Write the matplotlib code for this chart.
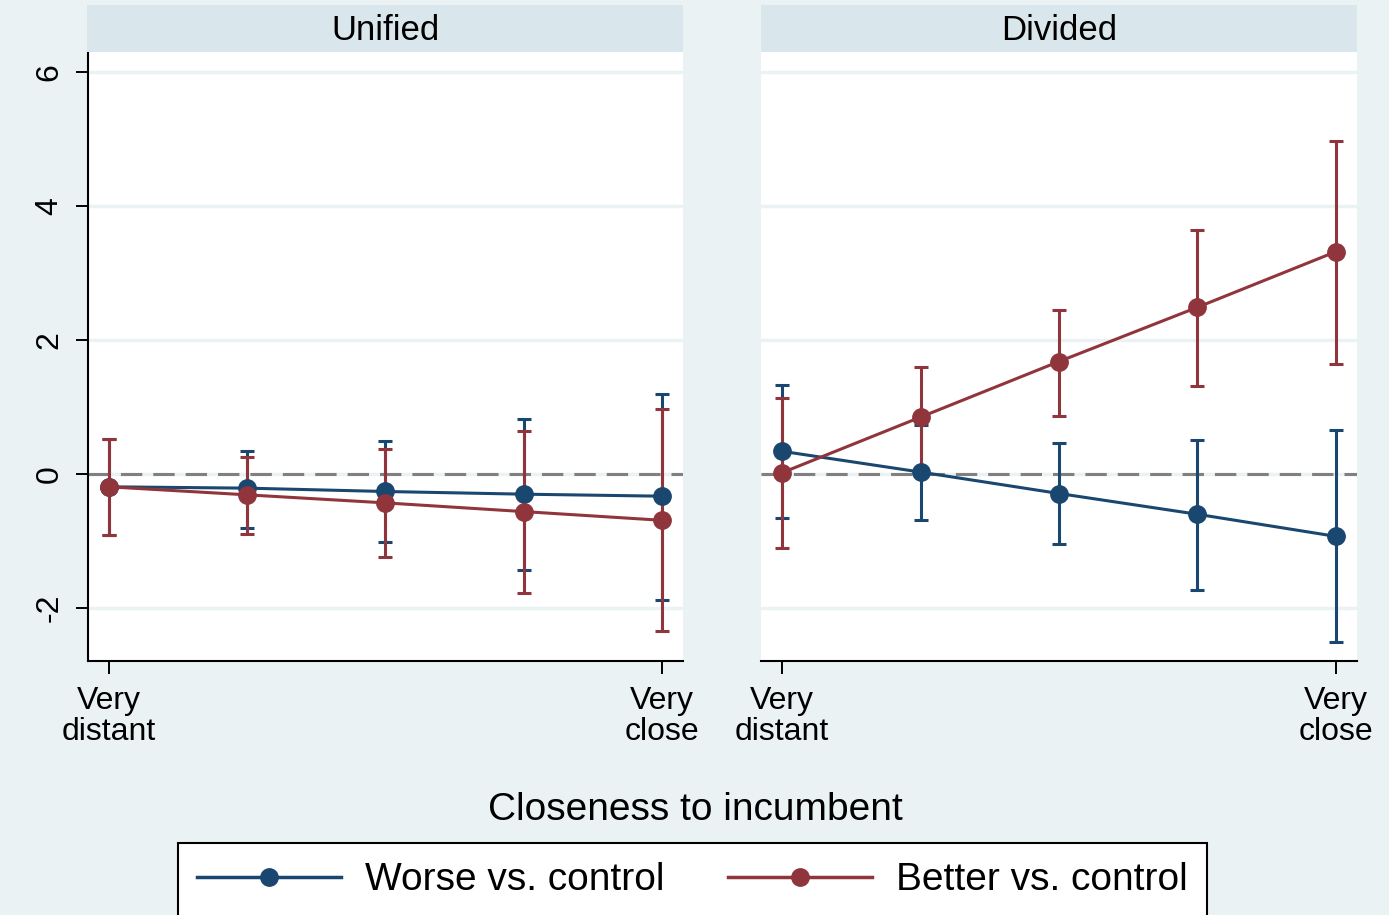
import matplotlib
matplotlib.use("Agg")
import matplotlib.pyplot as plt
import numpy as np

plt.rcParams['font.family'] = ['Liberation Sans', 'DejaVu Sans']

# closeness levels (1 = very distant, 5 = very close)
levels = [1, 2, 3, 4, 5]
tick_pos = [1, 5]
tick_labels = ["Very\ndistant", "Very\nclose"]
panels = ["Unified", "Divided"]

# Unified panel
uni_worse = [-0.19, -0.21, -0.26, -0.30, -0.33]
uni_worse_lo = [-0.91, -0.80, -1.02, -1.43, -1.88]
uni_worse_hi = [0.52, 0.35, 0.50, 0.82, 1.20]
uni_better = [-0.19, -0.31, -0.43, -0.56, -0.69]
uni_better_lo = [-0.91, -0.89, -1.24, -1.77, -2.34]
uni_better_hi = [0.52, 0.25, 0.37, 0.64, 0.97]

# Divided panel
div_worse = [0.34, 0.03, -0.29, -0.60, -0.93]
div_worse_lo = [-0.66, -0.68, -1.05, -1.73, -2.51]
div_worse_hi = [1.33, 0.73, 0.46, 0.51, 0.66]
div_better = [0.02, 0.85, 1.68, 2.49, 3.32]
div_better_lo = [-1.11, 0.08, 0.87, 1.31, 1.64]
div_better_hi = [1.14, 1.60, 2.45, 3.65, 4.97]

navy = "#1a476f"
maroon = "#90353b"
bg = "#eaf2f3"
strip = "#d9e6eb"

W, H = 1389, 915
fig = plt.figure(figsize=(W / 100, H / 100), dpi=100, facecolor=bg)


def px_axes(x0, y0, x1, y1):
    return fig.add_axes([x0 / W, 1 - y1 / H, (x1 - x0) / W, (y1 - y0) / H])


def draw_panel(ax, worse, wlo, whi, better, blo, bhi, show_y):
    ax.set_facecolor("white")
    for g in [-2, 0, 2, 4, 6]:
        ax.axhline(g, color=bg, lw=2.5, zorder=0)
    ax.axhline(0, color="#808080", lw=2.2, ls=(0, (7, 3.6)), zorder=1)

    w = np.array(worse)
    b = np.array(better)
    ax.errorbar(levels, w, yerr=[w - np.array(wlo), np.array(whi) - w], fmt="none",
                ecolor=navy, elinewidth=2.2, capsize=5.2, capthick=2.2, zorder=2)
    ax.errorbar(levels, b, yerr=[b - np.array(blo), np.array(bhi) - b], fmt="none",
                ecolor=maroon, elinewidth=2.2, capsize=5.2, capthick=2.2, zorder=2)
    ax.plot(levels, w, color=navy, lw=2.2, marker="o", ms=12.5, zorder=3)
    ax.plot(levels, b, color=maroon, lw=2.2, marker="o", ms=12.5, zorder=4)

    ax.set_xlim(0.848, 5.152)
    ax.set_ylim(-2.79, 6.30)
    ax.set_xticks(tick_pos)
    ax.set_xticklabels(tick_labels, fontsize=23, linespacing=1.05)
    ax.tick_params(axis="x", length=9, width=1.4, pad=9)
    for s in ["top", "right"]:
        ax.spines[s].set_visible(False)
    ax.spines["bottom"].set_linewidth(1.5)
    if show_y:
        ax.set_yticks([-2, 0, 2, 4, 6])
        ax.set_yticklabels(["-2", "0", "2", "4", "6"], fontsize=23, rotation=90, va="center")
        ax.tick_params(axis="y", length=9, width=1.4, pad=8)
        ax.spines["left"].set_linewidth(1.5)
    else:
        ax.spines["left"].set_visible(False)
        ax.set_yticks([])


ax1 = px_axes(88, 52, 683, 661)
draw_panel(ax1, uni_worse, uni_worse_lo, uni_worse_hi,
           uni_better, uni_better_lo, uni_better_hi, True)
ax2 = px_axes(761, 52, 1357, 661)
draw_panel(ax2, div_worse, div_worse_lo, div_worse_hi,
           div_better, div_better_lo, div_better_hi, False)

# strip headers
for (x0, x1), name in zip([(87, 683), (761, 1357)], panels):
    sa = px_axes(x0, 5, x1, 52)
    sa.set_facecolor(strip)
    sa.set_xticks([])
    sa.set_yticks([])
    for s in sa.spines.values():
        s.set_visible(False)
    sa.text(0.5, 0.45, name, ha="center", va="center", fontsize=25, transform=sa.transAxes)

fig.text(695 / W, 1 - 810 / H, "Closeness to incumbent", ha="center", va="center", fontsize=28)

handles = [plt.Line2D([], [], color=navy, lw=2.5, marker="o", ms=12.5),
           plt.Line2D([], [], color=maroon, lw=2.5, marker="o", ms=12.5)]
leg = fig.legend(handles, ["Worse vs. control", "Better vs. control"], ncol=2,
                 loc="upper left", bbox_to_anchor=(178 / W, 1 - 843 / H),
                 fontsize=28, frameon=True, fancybox=False, borderpad=0.5,
                 handlelength=3.7, handletextpad=0.62, columnspacing=1.62,
                 borderaxespad=0)
leg.get_frame().set_edgecolor("black")
leg.get_frame().set_linewidth(1.5)
leg.get_frame().set_facecolor("white")
leg.get_frame().set_alpha(1)

fig.savefig("out.png", dpi=100, facecolor=bg)
